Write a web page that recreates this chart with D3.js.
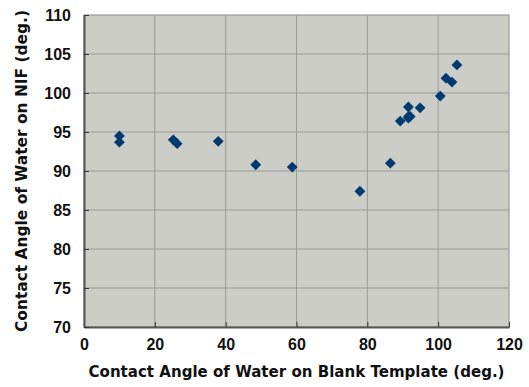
<!DOCTYPE html>
<html>
<head>
<meta charset="utf-8">
<script src="https://cdn.jsdelivr.net/npm/d3@7"></script>
<style>
  body { margin: 0; background: #fff; }
  text { font-family: "DejaVu Sans", sans-serif; font-weight: bold; fill: #111; }
  .tick text { font-family: "Liberation Sans", Arial, sans-serif; }
</style>
</head>
<body>
<div id="wykres"></div>
<script>
// blank template angle vs NIF angle
var blank = [10, 10, 25.2, 26.3, 37.9, 48.5, 58.8, 77.9, 86.5, 89.3, 91.6, 92.1, 91.6, 91.6, 94.9, 100.6, 102.2, 103.9, 105.3];
var nif   = [94.5, 93.7, 94.0, 93.5, 93.8, 90.8, 90.5, 87.4, 91.0, 96.4, 96.8, 97.0, 97.0, 98.2, 98.1, 99.6, 101.9, 101.4, 103.6];
var xTicks = [0, 20, 40, 60, 80, 100, 120];
var yTicks = [70, 75, 80, 85, 90, 95, 100, 105, 110];

var dane = blank.map(function (b, i) { return { x: b, y: nif[i] }; });

var margin = { top: 15, right: 20, bottom: 60, left: 84 };

var svg = d3.select("#wykres")
  .append("svg")
  .attr("width", 529)
  .attr("height", 387)
  .append("g")
  .attr("transform", "translate(" + margin.left + "," + margin.top + ")");

var xscale = d3.scaleLinear().domain([0, 120]).range([0, 425]);
var yscale = d3.scaleLinear().domain([70, 110]).range([312, 0]);

svg.append("rect")
  .attr("width", xscale(120))
  .attr("height", yscale(70))
  .attr("fill", "#cdcdc8")
  .attr("stroke", "#8a8a86")
  .attr("stroke-width", 1);

svg.append('g')
  .selectAll('line')
  .data(xTicks.slice(1, -1))
  .enter().append('line')
  .attr('x1', d => xscale(d))
  .attr('x2', d => xscale(d))
  .attr('y1', 0)
  .attr('y2', yscale(70))
  .attr('stroke', '#9a9a96');

svg.append('g')
  .selectAll('line')
  .data(yTicks.slice(1, -1))
  .enter().append('line')
  .attr('x1', 0)
  .attr('x2', xscale(120))
  .attr('y1', d => yscale(d))
  .attr('y2', d => yscale(d))
  .attr('stroke', '#9a9a96');

var xAxis = svg.append("g")
  .attr("transform", "translate(0," + yscale(70) + ")")
  .call(d3.axisBottom(xscale).tickValues(xTicks).tickSizeInner(-5).tickSizeOuter(0).tickPadding(12));
xAxis.select(".domain").attr("stroke", "#555").attr("stroke-width", 2);
xAxis.selectAll(".tick line").attr("stroke", "#333");
xAxis.selectAll("text").style("font-size", "16px");

var yAxis = svg.append("g")
  .call(d3.axisLeft(yscale).tickValues(yTicks).tickSizeInner(-5).tickSizeOuter(0).tickPadding(13));
yAxis.select(".domain").attr("stroke", "#555").attr("stroke-width", 2);
yAxis.selectAll(".tick line").attr("stroke", "#333");
yAxis.selectAll("text").style("font-size", "16px");

svg.append("g")
  .selectAll("path")
  .data(dane)
  .enter().append("path")
  .attr("d", d3.symbol().type(d3.symbolDiamond2).size(75))
  .attr("transform", d => "translate(" + xscale(d.x) + "," + yscale(d.y) + ")")
  .attr("fill", "#003a70");

svg.append("text")
  .attr("x", xscale(60))
  .attr("y", 362)
  .attr("text-anchor", "middle")
  .attr("textLength", 416)
  .attr("lengthAdjust", "spacingAndGlyphs")
  .style("font-size", "15px")
  .text("Contact Angle of Water on Blank Template (deg.)");

svg.append("text")
  .attr("transform", "translate(-57," + yscale(90) + ") rotate(-90)")
  .attr("text-anchor", "middle")
  .attr("textLength", 322)
  .attr("lengthAdjust", "spacingAndGlyphs")
  .style("font-size", "15px")
  .text("Contact Angle of Water on NIF (deg.)");
</script>
</body>
</html>
